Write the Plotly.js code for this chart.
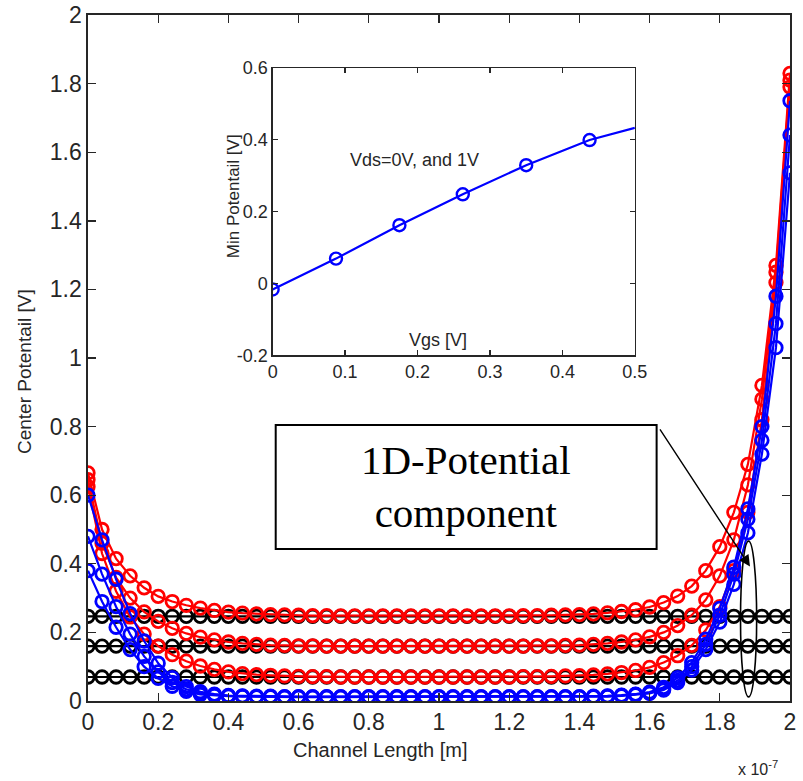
<!DOCTYPE html>
<html>
<head>
<meta charset="utf-8">
<script src="https://cdn.plot.ly/plotly-3.0.1.min.js"></script>
<style>html,body{margin:0;padding:0;background:#fff;}#chart{width:803px;height:781px;}</style>
</head>
<body>
<div id="chart"></div>
<script>
// ---- Main chart data (x in units of 1e-7 m) ----
const channelX = [0,0.04,0.08,0.12,0.16,0.2,0.24,0.28,0.32,0.36,0.4,0.44,0.48,0.52,0.56,0.6,0.64,0.68,0.72,0.76,0.8,0.84,0.88,0.92,0.96,1,1.04,1.08,1.12,1.16,1.2,1.24,1.28,1.32,1.36,1.4,1.44,1.48,1.52,1.56,1.6,1.64,1.68,1.72,1.76,1.8,1.84,1.88,1.92,1.96,2];

const red1 = [0.665,0.50,0.415,0.365,0.33,0.305,0.29,0.279,0.271,0.264,0.259,0.256,0.254,0.252,0.251,
  0.250,0.249,0.249,0.248,0.248,0.248,0.248,0.248,0.248,0.248,0.248,0.248,0.248,0.248,0.248,0.248,0.249,0.249,0.250,0.251,0.252,
  0.254,0.257,0.261,0.266,0.274,0.287,0.306,0.335,0.38,0.45,0.55,0.69,0.92,1.27,1.83];
const red2 = [0.645,0.46,0.36,0.30,0.26,0.232,0.212,0.197,0.186,0.178,0.172,0.168,0.165,0.163,0.162,
  0.161,0.161,0.160,0.160,0.160,0.160,0.160,0.160,0.160,0.160,0.160,0.160,0.160,0.160,0.160,0.160,0.160,0.161,0.161,0.162,0.163,
  0.165,0.168,0.172,0.178,0.187,0.2,0.22,0.25,0.295,0.365,0.47,0.63,0.88,1.25,1.81];
const red3 = [0.625,0.43,0.32,0.245,0.195,0.16,0.135,0.116,0.102,0.092,0.085,0.08,0.077,0.075,0.073,
  0.072,0.071,0.071,0.070,0.070,0.070,0.070,0.070,0.070,0.070,0.070,0.070,0.070,0.070,0.070,0.070,0.071,0.071,0.072,0.073,0.074,
  0.076,0.079,0.083,0.089,0.098,0.112,0.132,0.162,0.207,0.275,0.38,0.55,0.82,1.22,1.79];

const blue1 = [0.60,0.47,0.355,0.255,0.175,0.11,0.068,0.042,0.027,0.02,0.016,0.015,0.014,0.014,0.013,
  0.013,0.013,0.013,0.013,0.013,0.013,0.013,0.013,0.013,0.013,0.013,0.013,0.013,0.013,0.013,0.013,0.013,0.013,0.013,0.013,0.013,
  0.014,0.015,0.017,0.02,0.026,0.04,0.068,0.112,0.18,0.27,0.39,0.56,0.80,1.18,1.75];
const blue2 = [0.48,0.37,0.275,0.195,0.13,0.085,0.054,0.034,0.023,0.018,0.015,0.014,0.013,0.013,0.012,
  0.012,0.012,0.012,0.012,0.012,0.012,0.012,0.012,0.012,0.012,0.012,0.012,0.012,0.012,0.012,0.012,0.012,0.012,0.012,0.012,0.012,
  0.013,0.014,0.016,0.019,0.024,0.036,0.06,0.1,0.165,0.25,0.37,0.53,0.76,1.1,1.65];
const blue3 = [0.38,0.29,0.215,0.15,0.1,0.066,0.043,0.028,0.019,0.016,0.014,0.013,0.012,0.012,0.011,
  0.011,0.011,0.011,0.011,0.011,0.011,0.011,0.011,0.011,0.011,0.011,0.011,0.011,0.011,0.011,0.011,0.011,0.011,0.011,0.011,0.011,
  0.012,0.013,0.015,0.018,0.022,0.032,0.054,0.09,0.15,0.23,0.34,0.49,0.72,1.03,1.54];

const black1 = [0.247,0.247,0.247,0.247,0.247,0.247,0.247,0.247,0.247,0.247,0.247,0.247,0.247,0.247,0.247,0.247,0.247,0.247,0.247,0.247,0.247,0.247,0.247,0.247,0.247,0.247,0.247,0.247,0.247,0.247,0.247,0.247,0.247,0.247,0.247,0.247,0.247,0.247,0.247,0.247,0.247,0.247,0.247,0.247,0.247,0.247,0.247,0.247,0.247,0.247,0.247];
const black2 = [0.160,0.160,0.160,0.160,0.160,0.160,0.160,0.160,0.160,0.160,0.160,0.160,0.160,0.160,0.160,0.160,0.160,0.160,0.160,0.160,0.160,0.160,0.160,0.160,0.160,0.160,0.160,0.160,0.160,0.160,0.160,0.160,0.160,0.160,0.160,0.160,0.160,0.160,0.160,0.160,0.160,0.160,0.160,0.160,0.160,0.160,0.160,0.160,0.160,0.160,0.160];
const black3 = [0.070,0.070,0.070,0.070,0.070,0.070,0.070,0.070,0.070,0.070,0.070,0.070,0.070,0.070,0.070,0.070,0.070,0.070,0.070,0.070,0.070,0.070,0.070,0.070,0.070,0.070,0.070,0.070,0.070,0.070,0.070,0.070,0.070,0.070,0.070,0.070,0.070,0.070,0.070,0.070,0.070,0.070,0.070,0.070,0.070,0.070,0.070,0.070,0.070,0.070,0.070];

const mainXTickVals = [0,0.2,0.4,0.6,0.8,1,1.2,1.4,1.6,1.8,2];
const mainXTickText = ['0','0.2','0.4','0.6','0.8','1','1.2','1.4','1.6','1.8','2'];
const mainYTickVals = [0,0.2,0.4,0.6,0.8,1,1.2,1.4,1.6,1.8,2];
const mainYTickText = ['0','0.2','0.4','0.6','0.8','1','1.2','1.4','1.6','1.8','2'];

// ---- Inset data ----
const vgs = [0,0.0875,0.175,0.2625,0.35,0.4375,0.5];
const minPotential = [-0.017,0.069,0.162,0.248,0.329,0.399,0.433];
const insetXTickVals = [0,0.1,0.2,0.3,0.4,0.5];
const insetXTickText = ['0','0.1','0.2','0.3','0.4','0.5'];
const insetYTickVals = [-0.2,0,0.2,0.4,0.6];
const insetYTickText = ['-0.2','0','0.2','0.4','0.6'];

const SANS = 'Liberation Sans Narrow, Arial Narrow, Liberation Sans, Arial, sans-serif';
const SERIF = 'Liberation Serif, Times New Roman, serif';

function curve(y, color) {
  return {
    x: channelX, y: y, type: 'scatter', mode: 'lines+markers',
    line: {color: color, width: 2.2},
    marker: {symbol: 'circle-open', size: 12.5, color: color, line: {width: 2.8, color: color}},
    xaxis: 'x', yaxis: 'y', showlegend: false, hoverinfo: 'skip'
  };
}

const traces = [
  curve(black1, '#000000'), curve(black2, '#000000'), curve(black3, '#000000'),
  curve(red1, '#ff0000'), curve(red2, '#ff0000'), curve(red3, '#ff0000'),
  curve(blue1, '#0000ff'), curve(blue2, '#0000ff'), curve(blue3, '#0000ff'),
  {x: vgs, y: minPotential, type: 'scatter', mode: 'lines', line: {color: '#0000ff', width: 2.2},
   xaxis: 'x2', yaxis: 'y2', showlegend: false, hoverinfo: 'skip'},
  {x: vgs.slice(0, 6), y: minPotential.slice(0, 6), type: 'scatter', mode: 'markers',
   marker: {symbol: 'circle-open', size: 12, color: '#0000ff', line: {width: 2.4, color: '#0000ff'}},
   xaxis: 'x2', yaxis: 'y2', showlegend: false, hoverinfo: 'skip'}
];

const axisCommon = {
  showgrid: false, zeroline: false, showline: true, linecolor: '#262626', linewidth: 1.6,
  ticks: 'inside', mirror: 'ticks', tickcolor: '#262626', tickwidth: 1.4, fixedrange: true
};

const layout = {
  width: 803, height: 781,
  margin: {l: 88, r: 13, t: 15, b: 80, pad: 0},
  paper_bgcolor: '#ffffff', plot_bgcolor: '#ffffff',
  showlegend: false,
  xaxis: Object.assign({}, axisCommon, {
    domain: [0, 1], range: [0, 2], tickvals: mainXTickVals, ticktext: mainXTickText, ticklen: 8,
    tickfont: {family: SANS, size: 23, color: '#262626'}, anchor: 'y'
  }),
  yaxis: Object.assign({}, axisCommon, {
    domain: [0, 1], range: [0, 2], tickvals: mainYTickVals, ticktext: mainYTickText, ticklen: 8,
    tickfont: {family: SANS, size: 23, color: '#262626'}, anchor: 'x'
  }),
  xaxis2: Object.assign({}, axisCommon, {
    domain: [0.263, 0.779], range: [0, 0.5], tickvals: insetXTickVals, ticktext: insetXTickText, ticklen: 5,
    tickfont: {family: SANS, size: 18, color: '#262626'}, anchor: 'y2', linewidth: 1.3
  }),
  yaxis2: Object.assign({}, axisCommon, {
    domain: [0.504, 0.923], range: [-0.2, 0.6], tickvals: insetYTickVals, ticktext: insetYTickText, ticklen: 5,
    tickfont: {family: SANS, size: 18, color: '#262626'}, anchor: 'x2', linewidth: 1.3
  }),
  shapes: [
    {type: 'rect', xref: 'x2 domain', yref: 'y2 domain', x0: 0, x1: 1, y0: 0, y1: 1,
     fillcolor: '#ffffff', line: {width: 0}, layer: 'below'},
    {type: 'rect', xref: 'x', yref: 'y', x0: 0.5348, x1: 1.620, y0: 0.443, y1: 0.805,
     fillcolor: '#ffffff', line: {color: '#000000', width: 2}, layer: 'above'},
    {type: 'circle', xref: 'x', yref: 'y', x0: 1.859, x1: 1.905, y0: 0.012, y1: 0.466,
     line: {color: '#000000', width: 1.6}, layer: 'above'}
  ],
  annotations: [
    {xref: 'x', yref: 'y', x: 1.0774, y: 0.624, text: '1D-Potential<br>component', showarrow: false,
     font: {family: SERIF, size: 41, color: '#000000'}, align: 'center'},
    {xref: 'x', yref: 'y', x: 1.886, y: 0.392, axref: 'x', ayref: 'y', ax: 1.621, ay: 0.805,
     text: ' ', showarrow: true, arrowhead: 2, arrowsize: 1.6, arrowwidth: 1.4, arrowcolor: '#000000', standoff: 0},
    {xref: 'paper', yref: 'paper', x: 0.417, y: -0.0714, text: 'Channel Length [m]', showarrow: false,
     font: {family: SANS, size: 20, color: '#262626'}, xanchor: 'center', yanchor: 'middle'},
    {xref: 'paper', yref: 'paper', x: 0.954, y: -0.097, text: 'x 10<sup>-7</sup>', showarrow: false,
     font: {family: SANS, size: 16, color: '#262626'}, xanchor: 'center', yanchor: 'middle'},
    {xref: 'paper', yref: 'paper', x: -0.0897, y: 0.4796, text: 'Center Potentail [V]', showarrow: false,
     textangle: -90, font: {family: SANS, size: 19, color: '#262626'}, xanchor: 'center', yanchor: 'middle'},
    {xref: 'paper', yref: 'paper', x: 0.2066, y: 0.736, text: 'Min Potentail [V]', showarrow: false,
     textangle: -90, font: {family: SANS, size: 17, color: '#262626'}, xanchor: 'center', yanchor: 'middle'},
    {xref: 'paper', yref: 'paper', x: 0.4986, y: 0.526, text: 'Vgs [V]', showarrow: false,
     font: {family: SANS, size: 18, color: '#262626'}, xanchor: 'center', yanchor: 'middle'},
    {xref: 'paper', yref: 'paper', x: 0.4644, y: 0.7886, text: 'Vds=0V, and 1V', showarrow: false,
     font: {family: SANS, size: 18, color: '#262626'}, xanchor: 'center', yanchor: 'middle'}
  ]
};

Plotly.newPlot('chart', traces, layout, {staticPlot: true, displayModeBar: false});
</script>
</body>
</html>
